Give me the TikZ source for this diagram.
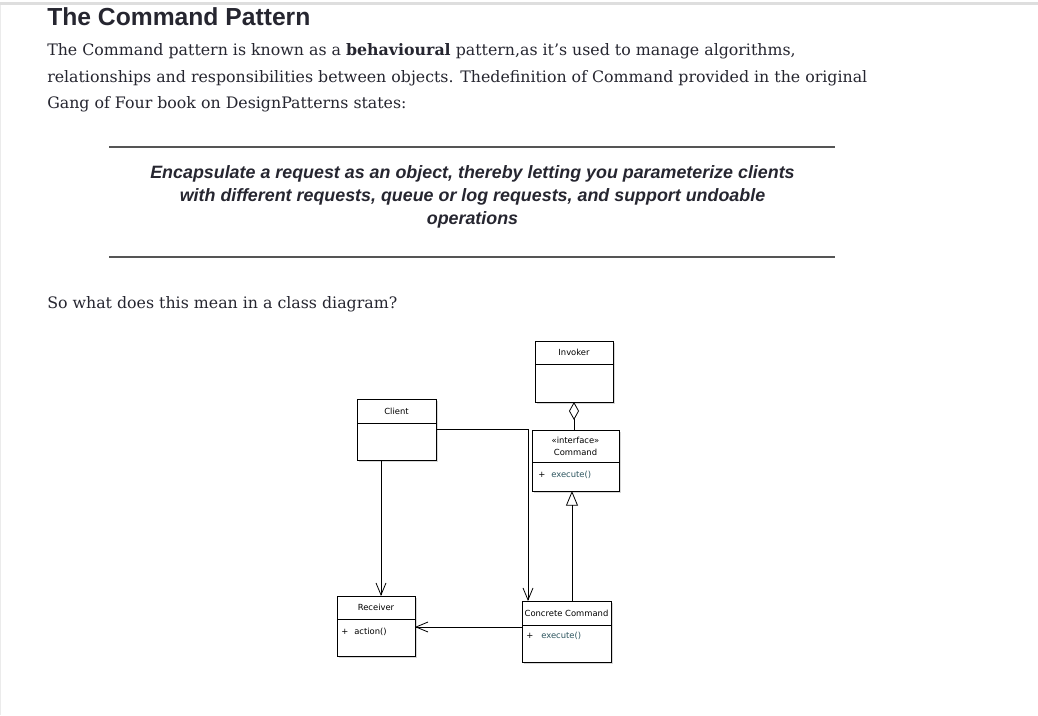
\documentclass[tikz,border=0pt]{standalone}
\usepackage{fontspec}
\setmainfont{DejaVu Serif}
\newfontfamily\headfont{Liberation Sans}
\newfontfamily\umlfont{DejaVu Sans}
\usepackage{xcolor}
\usetikzlibrary{arrows.meta, positioning, shadows}
\definecolor{textcol}{RGB}{38,38,48}
\definecolor{rulecol}{RGB}{85,85,85}
\definecolor{opcol}{RGB}{45,85,95}

\begin{document}
\begin{tikzpicture}[x=0.75pt, y=-0.75pt,
    heading/.style={anchor=base west, inner sep=0pt, text=textcol, font=\headfont\bfseries\fontsize{18.5pt}{22pt}\selectfont},
    txt/.style={anchor=base west, inner sep=0pt, text=textcol, font=\fontsize{11.85pt}{20pt}\selectfont},
    quoteline/.style={anchor=base, inner sep=0pt, text=textcol, font=\headfont\bfseries\itshape\fontsize{13.4pt}{17pt}\selectfont},
    classhead/.style={draw, line width=0.6pt, fill=white, anchor=north west, inner sep=0pt, outer sep=0pt, align=center,
        font=\umlfont\fontsize{6.3pt}{9pt}\selectfont,
        drop shadow={shadow xshift=1.5pt, shadow yshift=-1.5pt, fill=black!30}},
    classbody/.style={draw, line width=0.6pt, fill=white, anchor=north west, inner sep=0pt, outer sep=0pt,
        drop shadow={shadow xshift=1.5pt, shadow yshift=-1.5pt, fill=black!30}},
    member/.style={anchor=west, inner sep=0pt, font=\umlfont\fontsize{6.3pt}{9pt}\selectfont},
    assoc/.style={-{Straight Barb[length=9pt, width=7.5pt]}, line width=0.6pt},
    gen/.style={-{Triangle[open, length=11pt, width=9pt]}, line width=0.6pt},
    agg/.style={-{Diamond[open, length=13.5pt, width=7.5pt]}, line width=0.6pt}
]
    \useasboundingbox (0,0) rectangle (1038,715);
    \fill[white] (0,0) rectangle (1038,715);

    % Page frame
    \fill[black!13] (0,2) rectangle (1038,5);
    \draw[black!8] (0.5,5) -- (0.5,715);

    % Heading and intro text
    \node[heading] (title) at (47,25) {The Command Pattern};
    \node[txt] (intro1) at (47,55) {The Command pattern is known as a \textbf{behavioural} pattern,as it's used to manage algorithms,};
    \node[txt] (intro2) at (47,82) {relationships and responsibilities between objects. Thedefinition of Command provided in the original};
    \node[txt] (intro3) at (47,108) {Gang of Four book on DesignPatterns states:};

    % Quote between rules
    \draw[rulecol, line width=1.1pt] (109,147) -- (835,147);
    \node[quoteline] (quote1) at (472.5,178) {Encapsulate a request as an object, thereby letting you parameterize clients};
    \node[quoteline] (quote2) at (472.5,201) {with different requests, queue or log requests, and support undoable};
    \node[quoteline] (quote3) at (472.5,224) {operations};
    \draw[rulecol, line width=1.1pt] (109,257) -- (835,257);

    \node[txt] (ask) at (47,308) {So what does this mean in a class diagram?};

    % Invoker
    \node[classhead, minimum width=58.5pt, minimum height=17.25pt] (invh) at (535,341) {Invoker};
    \node[classbody, minimum width=58.5pt, minimum height=28.5pt] (invb) at (invh.south west) {};

    % Client
    \node[classhead, minimum width=59.25pt, minimum height=18pt] (clh) at (357,399) {Client};
    \node[classbody, minimum width=59.25pt, minimum height=27.75pt] (clb) at (clh.south west) {};

    % Command interface
    \node[classhead, minimum width=65.25pt, minimum height=24pt] (cmdh) at (532,430) {«interface»\\Command};
    \node[classbody, minimum width=65.25pt, minimum height=21.75pt] (cmdb) at (cmdh.south west) {};
    \node[member] (cmdexec) at ([xshift=4.5pt, yshift=1.1pt]cmdb.west) {\makebox[9.75pt][l]{+}\textcolor{opcol}{execute()}};

    % Receiver
    \node[classhead, minimum width=58.5pt, minimum height=17.25pt] (rch) at (337,596) {Receiver};
    \node[classbody, minimum width=58.5pt, minimum height=27.75pt] (rcb) at (rch.south west) {};
    \node[member] (rcaction) at ([xshift=3pt, yshift=4.1pt]rcb.west) {\makebox[9.75pt][l]{+}action()};

    % Concrete Command
    \node[classhead, minimum width=66.75pt, minimum height=18pt] (cch) at (522,601) {Concrete Command};
    \node[classbody, minimum width=66.75pt, minimum height=27.75pt] (ccb) at (cch.south west) {};
    \node[member] (ccexec) at ([xshift=3pt, yshift=5.6pt]ccb.west) {\makebox[11.25pt][l]{+}\textcolor{opcol}{execute()}};

    % Connectors
    \draw[agg] (invb.south |- cmdh.north) -- (invb.south);
    \coordinate (genfoot) at ([xshift=4.1pt]cch.north);
    \draw[gen] (genfoot) -- (genfoot |- cmdb.south);
    \draw[assoc] ([yshift=-4.5pt]clb.north east) -| ([xshift=4.5pt]cch.north west);
    \draw[assoc] ([xshift=18pt]clb.south west) -- ([xshift=18pt]clb.south west |- rch.north);
    \draw[assoc] ([yshift=-1.5pt]ccb.north west) -- ([yshift=-1.5pt]ccb.north west -| rcb.east);
\end{tikzpicture}
\end{document}
